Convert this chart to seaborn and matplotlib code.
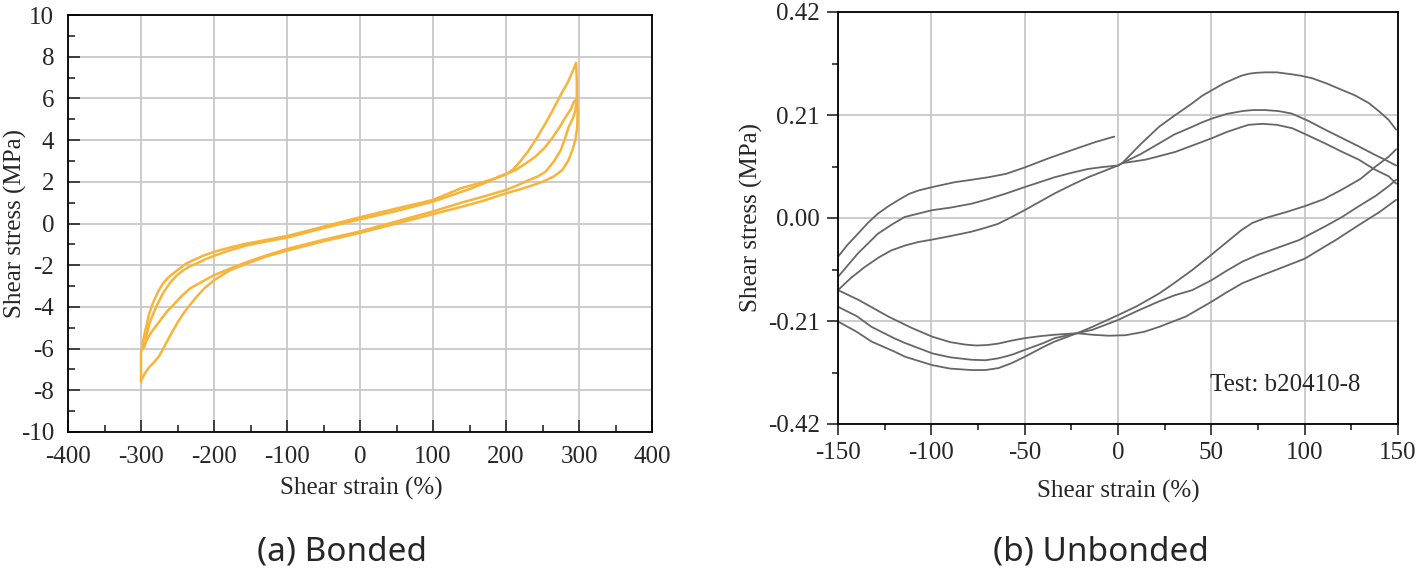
import pandas as pd
import matplotlib
matplotlib.use("Agg")
import matplotlib.pyplot as plt
from matplotlib.ticker import MultipleLocator, FormatStrFormatter
import seaborn as sns

# ---------------- (a) Bonded : shear strain (%) vs shear stress (MPa) ----------------
bond_up1_strain = [-300, -300, -297, -293, -289, -284, -277, -270, -263, -256, -247, -238, -226, -215,
                   -200, -178, -155, -130, -100, -50, 0, 50, 100, 139, 165, 185, 200, 210, 220, 231,
                   243, 254, 262, 270, 277, 284, 290, 296]
bond_up1_stress = [-7.6, -6.2, -5.6, -4.96, -4.35, -3.84, -3.3, -2.88, -2.6, -2.4, -2.15, -1.92, -1.72, -1.55,
                   -1.36, -1.15, -0.96, -0.8, -0.6, -0.15, 0.3, 0.72, 1.13, 1.7, 1.95, 2.16, 2.35, 2.6, 3.0, 3.5,
                   4.15, 4.8, 5.3, 5.84, 6.3, 6.72, 7.2, 7.7]

bond_down1_strain = [296, 297, 297, 298, 297.7, 295, 291, 285, 277, 265, 250, 225, 199, 170, 139, 100, 50, 0,
                     -50, -100, -130, -155, -178, -200, -213, -224, -234, -242, -250, -256, -262, -268,
                     -275, -282, -289, -295, -300]
bond_down1_stress = [7.7, 6.8, 6.0, 5.3, 4.64, 4.0, 3.52, 3.0, 2.56, 2.25, 2.0, 1.7, 1.44, 1.1, 0.8, 0.45, 0.0,
                     -0.45, -0.85, -1.3, -1.6, -1.92, -2.24, -2.72, -3.1, -3.52, -3.95, -4.32, -4.75, -5.12,
                     -5.5, -5.9, -6.35, -6.65, -6.9, -7.2, -7.55]

bond_up2_strain = [-298, -295, -292, -288.5, -283, -277, -270, -261, -252, -242, -233, -224, -212, -200,
                   -178, -155, -130, -100, -50, 0, 50, 100, 150, 175, 190, 213, 227, 240, 252, 263, 273,
                   282, 289, 293, 296]
bond_up2_stress = [-6.0, -5.9, -5.3, -4.8, -4.3, -3.84, -3.35, -2.88, -2.52, -2.24, -2.05, -1.92, -1.72, -1.55,
                   -1.28, -1.05, -0.87, -0.68, -0.22, 0.2, 0.6, 1.05, 1.65, 2.0, 2.25, 2.56, 2.88, 3.2, 3.6,
                   4.08, 4.6, 5.12, 5.5, 5.84, 5.95]

bond_down2_strain = [297, 295, 291, 286, 281, 275, 266, 254, 243, 231, 215, 199, 170, 139, 100, 50, 0, -50,
                     -100, -130, -155, -178, -200, -217, -233, -245, -256, -264, -270, -277, -284, -290, -298]
bond_down2_stress = [5.95, 5.4, 5.0, 4.64, 4.1, 3.52, 3.0, 2.48, 2.25, 2.08, 1.82, 1.6, 1.3, 1.0, 0.58, 0.1,
                     -0.38, -0.78, -1.22, -1.55, -1.85, -2.16, -2.48, -2.8, -3.12, -3.5, -3.92, -4.2, -4.48,
                     -4.8, -5.12, -5.45, -6.0]

# ---------------- (b) Unbonded ----------------
unb_first_strain = [-2, -12, -25, -37, -50, -60, -69.6, -80, -87.5, -99.5, -107, -112, -117.9, -123, -128.6,
                    -134, -139.3, -145, -150]
unb_first_stress = [0.166, 0.155, 0.138, 0.122, 0.103, 0.09, 0.083, 0.077, 0.073, 0.063, 0.056, 0.049, 0.036,
                    0.024, 0.009, -0.01, -0.032, -0.055, -0.079]

unb_upper1_strain = [149, 145, 140, 134.5, 127, 120, 112, 104, 98, 93, 85, 79, 74, 70, 66, 63, 57, 50.5, 45,
                     39.8, 30, 22, 12, 2.3, 0, -8, -16, -25, -34, -42, -50, -60.7, -70, -78.6, -90, -99.5,
                     -107, -114.3, -121, -128.6, -139.3, -150]
unb_upper1_stress = [0.18, 0.2, 0.217, 0.234, 0.25, 0.261, 0.274, 0.285, 0.29, 0.293, 0.297, 0.297, 0.296,
                     0.294, 0.29, 0.285, 0.275, 0.261, 0.249, 0.234, 0.208, 0.186, 0.15, 0.112, 0.107, 0.104,
                     0.1, 0.092, 0.083, 0.073, 0.063, 0.049, 0.038, 0.029, 0.021, 0.016, 0.009, 0.002, -0.013,
                     -0.032, -0.072, -0.12]

unb_upper2_strain = [149, 145, 137, 129, 120, 111, 102, 93, 86, 79, 72, 66.6, 58, 50.5, 45, 39.8, 30, 22, 12,
                     2.3, 0, -8, -16, -25, -34, -42, -50, -57, -64.3, -72, -78.6, -90, -99.5, -107, -114,
                     -121.4, -128, -135.7, -143, -150]
unb_upper2_stress = [0.107, 0.115, 0.13, 0.146, 0.163, 0.18, 0.198, 0.213, 0.218, 0.22, 0.22, 0.218, 0.212,
                     0.203, 0.195, 0.186, 0.17, 0.152, 0.13, 0.112, 0.107, 0.095, 0.083, 0.067, 0.05, 0.033,
                     0.016, 0.002, -0.012, -0.021, -0.028, -0.037, -0.044, -0.049, -0.056, -0.066, -0.08,
                     -0.1, -0.122, -0.147]

unb_upper3_strain = [149, 145, 137, 129, 120, 111, 102, 93.4, 85, 77.3, 70, 66.6, 58, 50.5, 40, 30.9, 22,
                     14.8, 8, 2.3]
unb_upper3_stress = [0.07, 0.085, 0.1, 0.119, 0.135, 0.152, 0.168, 0.183, 0.19, 0.192, 0.19, 0.186, 0.175,
                     0.163, 0.148, 0.135, 0.126, 0.119, 0.115, 0.112]

unb_lower1_strain = [-150, -139, -123, -110, -99.5, -90, -82, -76, -70, -64, -57, -50, -42, -34, -22, -13.75,
                     0, 10, 22, 30, 39.8, 50, 58, 66, 72, 79, 90, 100, 110, 120, 130, 138, 145, 149]
unb_lower1_stress = [-0.147, -0.167, -0.201, -0.225, -0.242, -0.253, -0.258, -0.26, -0.259, -0.256, -0.25,
                     -0.245, -0.241, -0.238, -0.235, -0.222, -0.198, -0.18, -0.154, -0.133, -0.106, -0.075,
                     -0.05, -0.025, -0.01, 0.0, 0.012, 0.024, 0.038, 0.058, 0.08, 0.105, 0.125, 0.14]

unb_lower2_strain = [-150, -140, -132, -120, -114, -99.5, -90, -78.6, -71, -64, -57, -50, -40, -34, -22,
                     -13.75, 0, 10, 22, 30, 39.8, 50, 58, 66.6, 75, 84.5, 97, 111, 120, 129, 138, 145, 149]
unb_lower2_stress = [-0.181, -0.2, -0.222, -0.245, -0.255, -0.276, -0.284, -0.289, -0.29, -0.286, -0.279,
                     -0.269, -0.255, -0.245, -0.235, -0.228, -0.208, -0.19, -0.17, -0.158, -0.147, -0.127,
                     -0.108, -0.089, -0.075, -0.062, -0.045, -0.017, 0.002, 0.024, 0.045, 0.065, 0.078]

unb_lower3_strain = [-150, -140, -132, -120, -114, -99.5, -90, -78.6, -71, -64, -57, -50, -40, -34, -22,
                     -13.75, -5, 4, 14, 22, 36.3, 50, 58, 66.6, 75, 84.5, 100, 110, 116.6, 130, 140, 149]
unb_lower3_stress = [-0.211, -0.232, -0.252, -0.272, -0.283, -0.3, -0.307, -0.31, -0.31, -0.306, -0.296,
                     -0.283, -0.263, -0.252, -0.235, -0.238, -0.24, -0.239, -0.232, -0.222, -0.201, -0.171,
                     -0.152, -0.133, -0.12, -0.106, -0.083, -0.06, -0.045, -0.012, 0.012, 0.037]


def to_frame(branches):
    parts = [pd.DataFrame({'strain': xs, 'stress': ys, 'branch': name}) for name, xs, ys in branches]
    return pd.concat(parts, ignore_index=True)


df_bond = to_frame([
    ('up1', bond_up1_strain, bond_up1_stress),
    ('down1', bond_down1_strain, bond_down1_stress),
    ('up2', bond_up2_strain, bond_up2_stress),
    ('down2', bond_down2_strain, bond_down2_stress),
])
df_unb = to_frame([
    ('first', unb_first_strain, unb_first_stress),
    ('upper1', unb_upper1_strain, unb_upper1_stress),
    ('upper2', unb_upper2_strain, unb_upper2_stress),
    ('upper3', unb_upper3_strain, unb_upper3_stress),
    ('lower1', unb_lower1_strain, unb_lower1_stress),
    ('lower2', unb_lower2_strain, unb_lower2_stress),
    ('lower3', unb_lower3_strain, unb_lower3_stress),
])

sns.set_style("ticks")
plt.rcParams['font.family'] = ['Liberation Serif', 'DejaVu Serif']
plt.rcParams['axes.unicode_minus'] = False

W, H = 1418, 570
fig = plt.figure(figsize=(W / 100, H / 100), dpi=100)
ax1 = fig.add_axes([68 / W, 1 - 432 / H, 584 / W, 417 / H])
ax2 = fig.add_axes([838 / W, 1 - 424 / H, 560 / W, 412 / H])

grid_kw = dict(color='#c8c8c8', linewidth=1.3)
tick_fs = 18

# ---- panel (a)
sns.lineplot(data=df_bond, x='strain', y='stress', units='branch', estimator=None, sort=False,
             color='#f8b43a', linewidth=1.8, ax=ax1)
ax1.set_xlim(-400, 400)
ax1.set_ylim(-10, 10)
ax1.xaxis.set_major_locator(MultipleLocator(100))
ax1.xaxis.set_minor_locator(MultipleLocator(50))
ax1.yaxis.set_major_locator(MultipleLocator(2))
ax1.yaxis.set_minor_locator(MultipleLocator(1))
ax1.tick_params(which='both', direction='in', top=False, right=False, width=1.2, labelsize=tick_fs)
ax1.tick_params(which='major', length=8.5, pad=10)
ax1.tick_params(which='minor', length=5)
ax1.grid(True, which='major', **grid_kw)
ax1.set_axisbelow(True)
ax1.set_xlabel('Shear strain (%)', fontsize=tick_fs)
ax1.set_ylabel('Shear stress (MPa)', fontsize=tick_fs)
ax1.xaxis.set_label_coords(0.503, -0.108)
ax1.yaxis.set_label_coords(-0.07, 0.5)

# ---- panel (b)
sns.lineplot(data=df_unb, x='strain', y='stress', units='branch', estimator=None, sort=False,
             color='#666666', linewidth=1.3, ax=ax2)
ax2.set_xlim(-150, 150)
ax2.set_ylim(-0.42, 0.42)
ax2.xaxis.set_major_locator(MultipleLocator(50))
ax2.xaxis.set_minor_locator(MultipleLocator(25))
ax2.set_yticks([-0.42, -0.21, 0.0, 0.21, 0.42])
ax2.yaxis.set_minor_locator(MultipleLocator(0.105))
ax2.yaxis.set_major_formatter(FormatStrFormatter('%.2f'))
ax2.tick_params(which='both', direction='out', top=False, right=False, width=1.2, labelsize=tick_fs)
ax2.tick_params(which='major', length=8, pad=5)
ax2.tick_params(which='minor', length=4.5)
ax2.grid(True, which='major', **grid_kw)
ax2.set_axisbelow(True)
ax2.set_xlabel('Shear strain (%)', fontsize=tick_fs)
ax2.set_ylabel('Shear stress (MPa)', fontsize=tick_fs)
ax2.xaxis.set_label_coords(0.5, -0.136)
ax2.yaxis.set_label_coords(-0.134, 0.5)
ax2.text(0.664, 0.095, 'Test: b20410-8', transform=ax2.transAxes, fontsize=tick_fs,
         ha='left', va='center')

for ax in (ax1, ax2):
    for s in ax.spines.values():
        s.set_visible(True)
        s.set_color('black')
        s.set_linewidth(1.3)

fig.text(342 / W, 1 - 552 / H, '(a) Bonded', fontsize=24, family=['Noto Sans', 'DejaVu Sans'],
         ha='center', va='center')
fig.text(1101 / W, 1 - 552 / H, '(b) Unbonded', fontsize=24, family=['Noto Sans', 'DejaVu Sans'],
         ha='center', va='center')

fig.savefig('out.png', dpi=100)
